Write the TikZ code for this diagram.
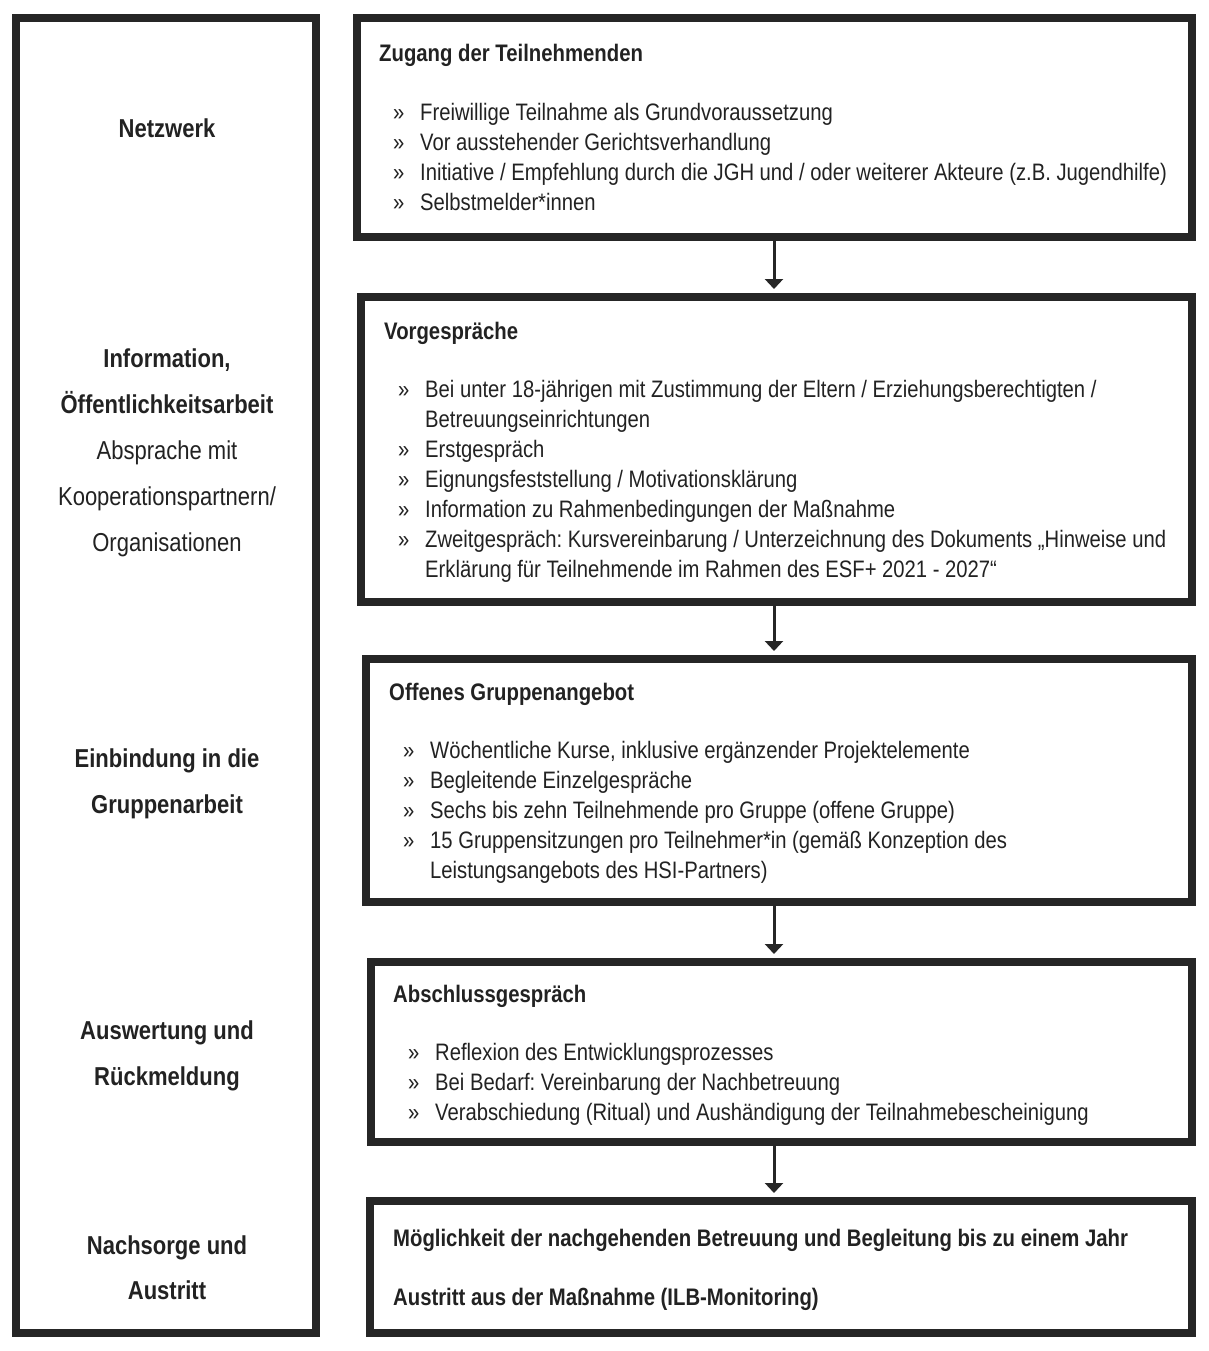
\documentclass[tikz,border=0pt]{standalone}
\usepackage{fontspec}
\setmainfont{Liberation Sans}[FakeStretch=0.85]
\usetikzlibrary{arrows.meta}
\definecolor{ink}{HTML}{262626}
\definecolor{txt}{HTML}{222222}
\newcommand\bitem[1]{\strut\makebox[27pt][l]{»}#1}
\newcommand\bcont[1]{\strut\hspace*{27pt}#1}
\frenchspacing
\begin{document}
\frenchspacing
\begin{tikzpicture}[x=1pt,y=-1pt,
  box/.style={draw=ink, line width=8pt, rectangle, inner sep=0pt, fill=white},
  ttl/.style={anchor=base west, inner sep=0pt, text=txt, font=\fontsize{23.9}{30}\selectfont\bfseries\frenchspacing},
  blist/.style={anchor=north west, inner sep=0pt, text=txt, align=left, font=\fontsize{23.8}{30}\selectfont\frenchspacing},
  side/.style={anchor=north, inner sep=0pt, text=txt, align=center, font=\fontsize{25.9}{46}\selectfont},
  arr/.style={draw=ink, line width=3pt, -{Triangle[width=18pt,length=10pt]}, shorten >=4pt}
]
\useasboundingbox[fill=white] (0,0) rectangle (1208,1351);

% left column
\node[box, minimum width=300pt, minimum height=1315pt] (L) at (166,675.5) {};
\node[side, font=\fontsize{25.9}{46}\selectfont\bfseries] (s1) at (167,137-32.2) {\strut Netzwerk};
\node[side] (s2) at (167,367-32.2) {\strut\textbf{Information,}\\\strut\textbf{Öffentlichkeitsarbeit}\\\strut Absprache mit\\\strut Kooperationspartnern/\\\strut Organisationen};
\node[side, font=\fontsize{25.9}{46}\selectfont\bfseries] (s3) at (167,767-32.2) {\strut Einbindung in die\\\strut Gruppenarbeit};
\node[side, font=\fontsize{25.9}{46}\selectfont\bfseries] (s4) at (167,1039-32.2) {\strut Auswertung und\\\strut Rückmeldung};
\node[side, font=\fontsize{25.9}{45}\selectfont\bfseries] (s5) at (167,1254-31.5) {\strut Nachsorge und\\\strut Austritt};

% right boxes
\node[box, minimum width=835pt, minimum height=219pt] (b1) at (774.5,127.5) {};
\node[box, minimum width=831pt, minimum height=305pt] (b2) at (776.5,449.5) {};
\node[box, minimum width=826pt, minimum height=243pt] (b3) at (779,780.5) {};
\node[box, minimum width=821pt, minimum height=180pt] (b4) at (781.5,1052) {};
\node[box, minimum width=822pt, minimum height=132pt] (b5) at (781,1267) {};

% box 1
\node[ttl] (t1) at (379,62) {Zugang der Teilnehmenden};
\node[blist] (l1) at (393,120-21) {%
\bitem{Freiwillige Teilnahme als Grundvoraussetzung}\\
\bitem{Vor ausstehender Gerichtsverhandlung}\\
\bitem{Initiative / Empfehlung durch die JGH und / oder weiterer Akteure (z.B. Jugendhilfe)}\\
\bitem{Selbstmelder*innen}};

% box 2
\node[ttl] (t2) at (384,339) {Vorgespräche};
\node[blist] (l2) at (398,397-21) {%
\bitem{Bei unter 18-jährigen mit Zustimmung der Eltern / Erziehungsberechtigten /}\\
\bcont{Betreuungseinrichtungen}\\
\bitem{Erstgespräch}\\
\bitem{Eignungsfeststellung / Motivationsklärung}\\
\bitem{Information zu Rahmenbedingungen der Maßnahme}\\
\bitem{Zweitgespräch: Kursvereinbarung / Unterzeichnung des Dokuments „Hinweise und}\\
\bcont{Erklärung für Teilnehmende im Rahmen des ESF+ 2021 - 2027“}};

% box 3
\node[ttl] (t3) at (389,700) {Offenes Gruppenangebot};
\node[blist] (l3) at (403,758-21) {%
\bitem{Wöchentliche Kurse, inklusive ergänzender Projektelemente}\\
\bitem{Begleitende Einzelgespräche}\\
\bitem{Sechs bis zehn Teilnehmende pro Gruppe (offene Gruppe)}\\
\bitem{15 Gruppensitzungen pro Teilnehmer*in (gemäß Konzeption des}\\
\bcont{Leistungsangebots des HSI-Partners)}};

% box 4
\node[ttl] (t4) at (393,1002) {Abschlussgespräch};
\node[blist] (l4) at (408,1060-21) {%
\bitem{Reflexion des Entwicklungsprozesses}\\
\bitem{Bei Bedarf: Vereinbarung der Nachbetreuung}\\
\bitem{Verabschiedung (Ritual) und Aushändigung der Teilnahmebescheinigung}};

% box 5
\node[ttl] (t5a) at (393,1246) {Möglichkeit der nachgehenden Betreuung und Begleitung bis zu einem Jahr};
\node[ttl] (t5b) at (393,1305) {Austritt aus der Maßnahme (ILB-Monitoring)};

% connectors
\coordinate (ax) at (774,0);
\draw[arr] (b1.south -| ax) -- (b2.north -| ax);
\draw[arr] (b2.south -| ax) -- (b3.north -| ax);
\draw[arr] (b3.south -| ax) -- (b4.north -| ax);
\draw[arr] (b4.south -| ax) -- (b5.north -| ax);
\end{tikzpicture}
\end{document}
